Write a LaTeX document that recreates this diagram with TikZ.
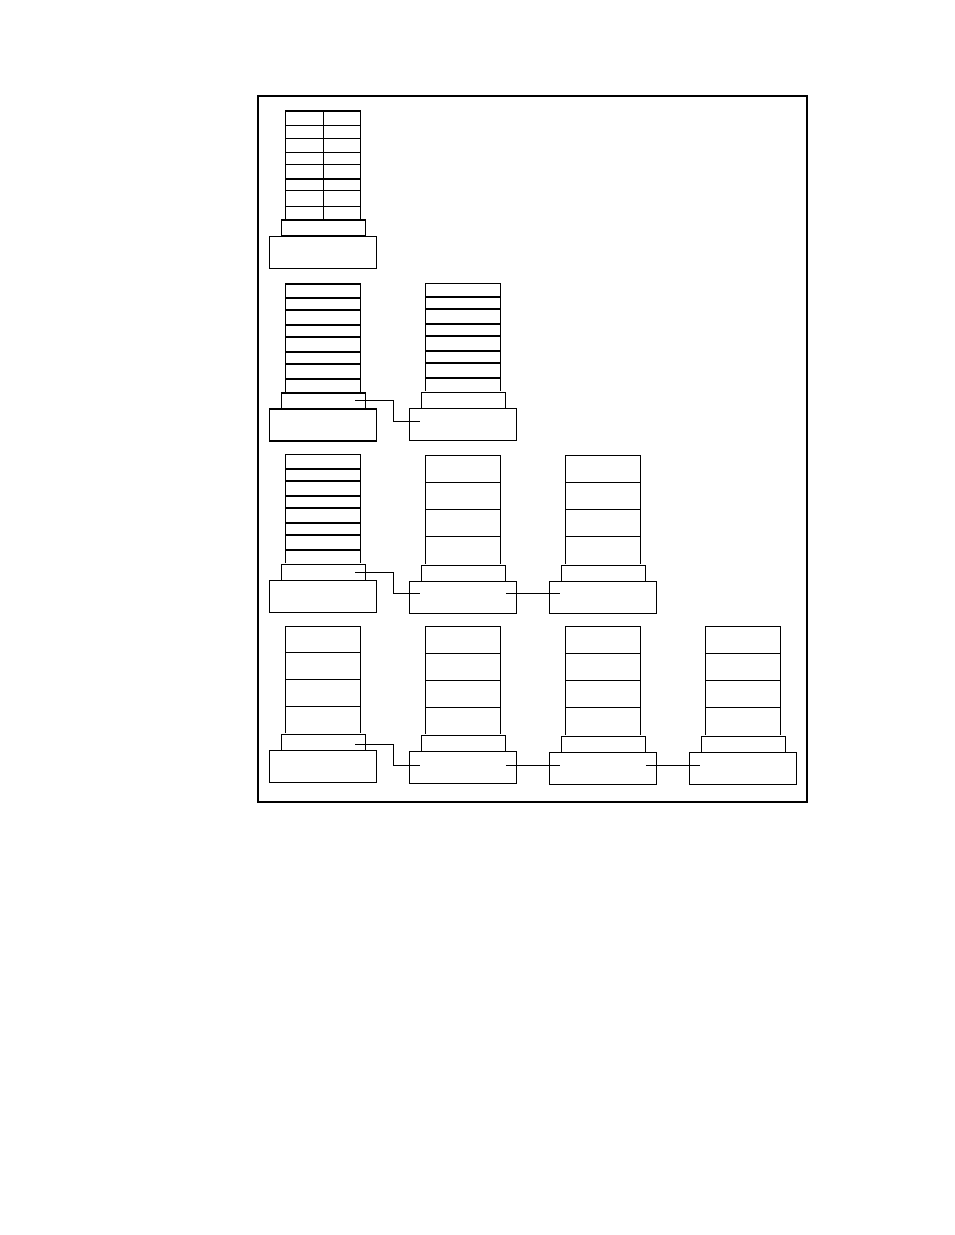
\documentclass[tikz,border=0pt]{standalone}
\usetikzlibrary{calc}
\tikzset{
  every path/.style={line width=1.1pt},
  basebox/.style={draw, line width=1.1pt, minimum width=107pt, minimum height=32pt, inner sep=0pt, outer sep=0pt},
  pedbox/.style={draw, line width=1.1pt, minimum width=84pt, minimum height=16pt, inner sep=0pt, outer sep=0pt},
  link/.style={draw, line width=1.1pt}
}
\newcommand\mystack[4]{%
  \draw (#1,#3) -- (#1,#2) -- (#1+75,#2) -- (#1+75,#3);
  \foreach \yy in {#4} {\draw (#1,\yy) -- (#1+75,\yy);}
}
\begin{document}
\begin{tikzpicture}[x=1pt,y=-1pt]
\useasboundingbox (0,0) rectangle (954,1235);
% outer frame
\draw (258,96) rectangle (807,802);

% ---------- row 1 ----------
\mystack{285.5}{111}{218.5}{125.3,138.3,152.3,164.3,179,190.7,206.7}
\draw[line width=0.8pt] (323,111) -- (323,218.5);
\node[pedbox] (p11) at (323.5,228) {};
\node[basebox] (b11) at (323,252.2) {};

% ---------- row 2 ----------
\mystack{285.5}{284}{391.5}{298,310,325,337,352,364,379}
\mystack{425.5}{283.5}{391}{297,309,324,336,351,363,378}
\node[pedbox] (p21) at (323.5,401) {};
\node[basebox] (b21) at (323,425) {};
\node[pedbox] (p22) at (463.5,400.5) {};
\node[basebox] (b22) at (463,424.5) {};

% ---------- row 3 ----------
\mystack{285.5}{454.3}{563}{469,481,496,508,523,535,550}
\mystack{425.5}{455.3}{563.5}{482.3,509.3,536.3}
\mystack{565.5}{455.3}{563.5}{482.3,509.3,536.3}
\node[pedbox] (p31) at (323.5,572.5) {};
\node[basebox] (b31) at (323,596.5) {};
\node[pedbox] (p32) at (463.5,573.5) {};
\node[basebox] (b32) at (463,597.5) {};
\node[pedbox] (p33) at (603.5,573.5) {};
\node[basebox] (b33) at (603,597.5) {};

% ---------- row 4 ----------
\mystack{285.5}{626.5}{733}{652.5,679.5,706.5}
\mystack{425.5}{626.5}{733.5}{653.5,680.5,707.5}
\mystack{565.5}{626.5}{734.5}{653.5,680.5,707.5}
\mystack{705.5}{626.5}{734.5}{653.5,680.5,707.5}
\node[pedbox] (p41) at (323.5,742.7) {};
\node[basebox] (b41) at (323,766.7) {};
\node[pedbox] (p42) at (463.5,743.5) {};
\node[basebox] (b42) at (463,767.5) {};
\node[pedbox] (p43) at (603.5,744.5) {};
\node[basebox] (b43) at (603,768.5) {};
\node[pedbox] (p44) at (743.5,744.5) {};
\node[basebox] (b44) at (743,768.5) {};

% ---------- connectors ----------
% row 2
\coordinate (s21) at ($(p21.east)+(-10.5,-0.7)$);
\coordinate (e22) at ($(b22.west)+(10.7,-3.2)$);
\draw[link] (s21) -- (393.7,0 |- s21) |- (e22);
% row 3
\coordinate (s31) at ($(p31.east)+(-10.5,-0.2)$);
\coordinate (e32) at ($(b32.west)+(10.7,-4)$);
\draw[link] (s31) -- (393.7,0 |- s31) |- (e32);
\coordinate (s32) at ($(b32.east)+(-10.6,-4)$);
\coordinate (e33) at ($(b33.west)+(10.7,-4)$);
\draw[link] (s32) -- (e33);
% row 4
\coordinate (s41) at ($(p41.east)+(-10.5,1.6)$);
\coordinate (e42) at ($(b42.west)+(10.7,-1.8)$);
\draw[link] (s41) -- (393.7,0 |- s41) |- (e42);
\coordinate (s42) at ($(b42.east)+(-10.6,-1.8)$);
\coordinate (e43) at ($(b43.west)+(10.7,-2.8)$);
\draw[link] (s42) -- (e43);
\coordinate (s43) at ($(b43.east)+(-10.6,-2.8)$);
\coordinate (e44) at ($(b44.west)+(10.7,-2.8)$);
\draw[link] (s43) -- (e44);
\end{tikzpicture}
\end{document}
